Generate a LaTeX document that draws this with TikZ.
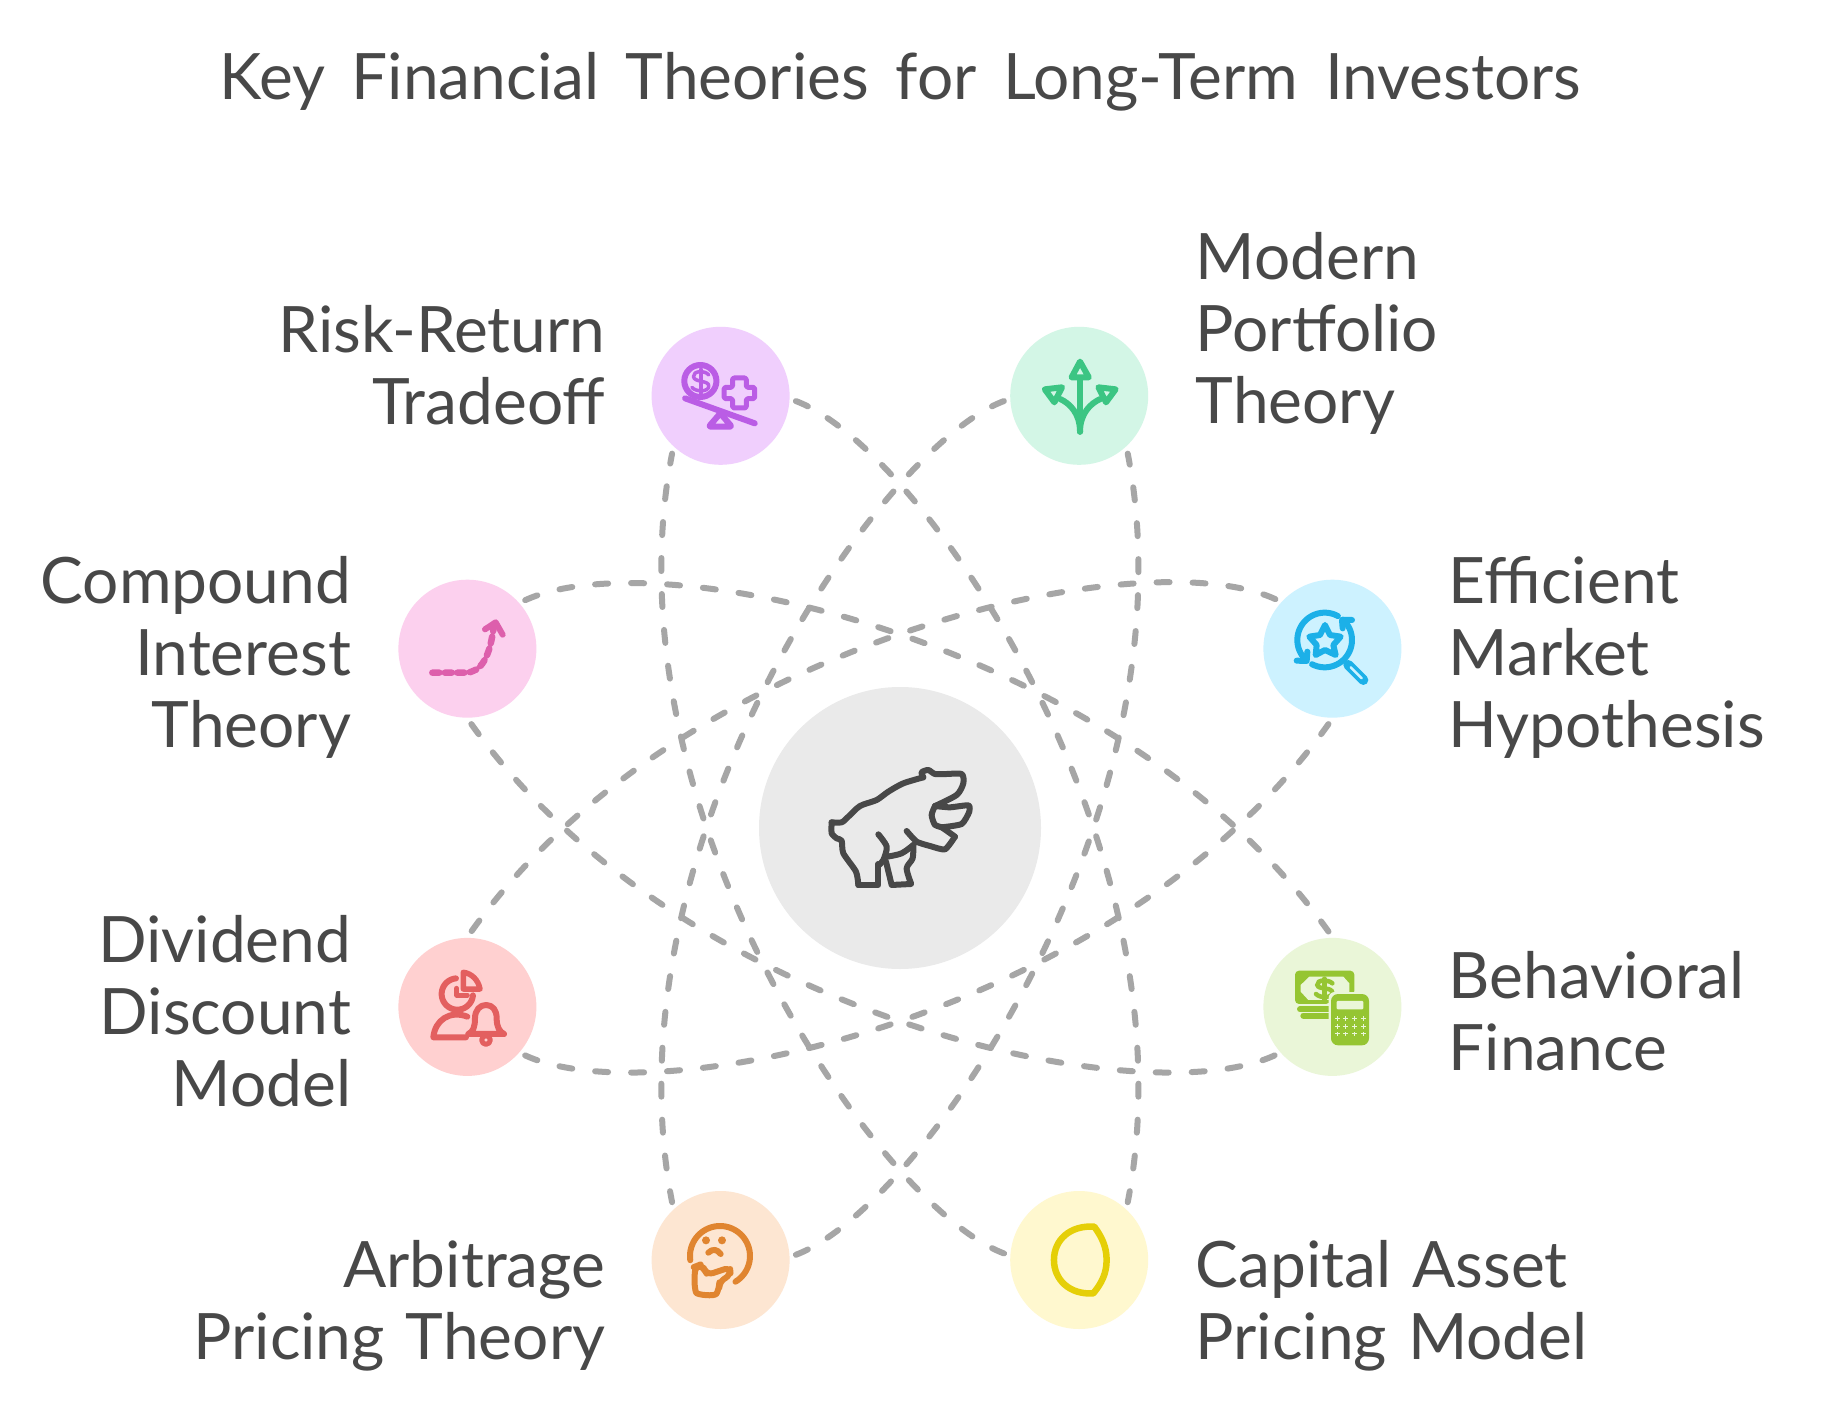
\documentclass[tikz,border=0pt]{standalone}
\usepackage{fontspec}
\setmainfont{Lato}
\newcommand{\labelfont}{\fontsize{64}{72}\selectfont\spaceskip 21pt\relax}
\newcommand{\titlefont}{\fontsize{64}{72}\selectfont\spaceskip 26.5pt\relax}
\definecolor{ink}{HTML}{484848}
\definecolor{dashc}{HTML}{A6A6A6}
\definecolor{cpurple}{HTML}{F0CFFD}\definecolor{ipurple}{HTML}{BA5DE5}
\definecolor{cgreen}{HTML}{D3F6E6}\definecolor{igreen}{HTML}{3CC583}
\definecolor{cpink}{HTML}{FCD0EE}\definecolor{ipink}{HTML}{DD5FAC}
\definecolor{cblue}{HTML}{CDF2FF}\definecolor{iblue}{HTML}{1CB0E8}
\definecolor{cred}{HTML}{FFD0D0}\definecolor{ired}{HTML}{E35F5F}
\definecolor{clime}{HTML}{EAF6D8}\definecolor{ilime}{HTML}{95C532}
\definecolor{corange}{HTML}{FDE6D2}\definecolor{iorange}{HTML}{E08530}
\definecolor{cyellow}{HTML}{FFF8CF}\definecolor{iyellow}{HTML}{E5CF08}
\definecolor{ccentre}{HTML}{EAEAEA}
\tikzset{
  spot/.style={circle,minimum size=138pt,inner sep=0pt,outer sep=6.5pt,fill=#1},
  dashlink/.style={draw=dashc,line width=6pt,line cap=round,dash pattern=on 13pt off 23pt},
  label/.style={text=ink,font=\labelfont},
  leftlabel/.style={label,anchor=east,align=right,inner sep=0pt},
  rightlabel/.style={label,anchor=west,align=left,inner sep=0pt},
  iconline/.style={line width=6pt,line cap=round,line join=round},
}
\begin{document}
\begin{tikzpicture}[x=1pt,y=-1pt]
\path[use as bounding box,fill=white] (0,0) rectangle (1836,1404);
\node[text=ink,font=\titlefont,anchor=center,inner sep=0pt] (title) at (900,82) {Key Financial Theories for Long-Term Investors};
\node[spot=ccentre,minimum size=282pt] (centre) at (900,828) {};
\node[spot=cpurple] (purple) at (720.6,395.8) {};
\node[spot=cgreen] (green) at (1079.2,395.8) {};
\node[spot=cpink] (pink) at (467.4,648.7) {};
\node[spot=cblue] (blue) at (1332.4,648.7) {};
\node[spot=cred] (red) at (467.4,1006.9) {};
\node[spot=clime] (lime) at (1332.4,1006.9) {};
\node[spot=corange] (orange) at (720.6,1260) {};
\node[spot=cyellow] (yellow) at (1079.2,1260) {};
% connectors
\draw[dashlink] (purple.-4.4) .. controls +(128,48) and +(68,-350) .. (yellow.50);
\draw[dashlink] (yellow.175.6) .. controls +(-128,-48) and +(-68,350) .. (purple.230);
\draw[dashlink] (green.184.4) .. controls +(-128,48) and +(-68,-350) .. (orange.130);
\draw[dashlink] (orange.4.4) .. controls +(128,-48) and +(68,350) .. (green.-50);
\draw[dashlink] (pink.40.6) .. controls +(135,-62) and +(-205,-288) .. (lime.93);
\draw[dashlink] (lime.220.6) .. controls +(-135,62) and +(205,288) .. (pink.273);
\draw[dashlink] (blue.139.4) .. controls +(-135,-62) and +(205,-288) .. (red.87);
\draw[dashlink] (red.-40.6) .. controls +(135,62) and +(-205,288) .. (blue.-93);
% labels
\node[leftlabel] (lrisk) at (605.4,365) {Risk-Return\\Tradeoff};
\node[rightlabel] (lmodern) at (1195.5,333.5) {Modern\\Portfolio\\Theory};
\node[leftlabel] (lcomp) at (351.3,657) {Compound\\Interest\\Theory};
\node[rightlabel] (leff) at (1448.5,657) {Efficient\\Market\\Hypothesis};
\node[leftlabel] (ldiv) at (351.3,1011.5) {Dividend\\Discount\\Model};
\node[rightlabel] (lbeh) at (1448.5,1011.5) {Behavioral\\Finance};
\node[leftlabel] (larb) at (605.4,1305.5) {Arbitrage\\Pricing Theory};
\node[rightlabel] (lcap) at (1195.5,1305.5) {Capital Asset\\Pricing Model};
% purple icon
\begin{scope}[shift={(620,300)},xscale=0.3827,yscale=0.3333,iconline,draw=ipurple]
\draw (210,243) ellipse [x radius=42,y radius=48];
\draw[line width=3.5pt] (232,225) .. controls (222,210) and (190,212) .. (192,230) .. controls (194,248) and (232,240) .. (232,258) .. controls (232,278) and (195,275) .. (188,262);
\draw[line width=3.5pt] (211,208) -- (211,280);
\draw[line width=5pt,rounded corners=1.5pt] (294,234) -- (330,234) -- (330,262) -- (352,262) -- (352,296) -- (330,296) -- (330,324) -- (294,324) -- (294,296) -- (272,296) -- (272,262) -- (294,262) -- cycle;
\draw (170,295) -- (352,370);
\draw[rounded corners=2pt] (262,340) -- (232,380) -- (292,380) -- cycle;
\end{scope}
% green icon
\begin{scope}[shift={(620,300)},xscale=0.3827,yscale=0.3333,iconline,draw=igreen]
\draw (1202,395) -- (1202,235);
\draw (1202,185) -- (1180,232) -- (1225,232) -- cycle;
\draw (1202,395) .. controls (1202,340) and (1175,310) .. (1150,297);
\draw (1202,395) .. controls (1202,340) and (1230,310) .. (1255,297);
\draw (1110,268) -- (1155,262) -- (1135,307) -- cycle;
\draw (1295,268) -- (1250,262) -- (1270,307) -- cycle;
\end{scope}
% pink icon
\begin{scope}[shift={(380,560)},scale=0.3333,iconline,draw=ipink]
\draw[line width=6.5pt,dash pattern=on 7pt off 5.5pt] (157,338) -- (255,338) .. controls (305,338) and (330,290) .. (342,195);
\draw (315,208) -- (347,187) -- (368,224);
\end{scope}
% blue icon
\begin{scope}[shift={(1250,560)},scale=0.3333,iconline,draw=iblue]
\draw plot[domain=-61:-220,samples=40] ({224+82*cos(\x)},{240+82*sin(\x)});
\draw plot[domain=117.5:-48,samples=40] ({224+82*cos(\x)},{240+82*sin(\x)});
\draw (172,275) -- (170,303) -- (140,302);
\draw (278,205) -- (276,180) -- (306,180);
\draw (225,195) -- (240,225) -- (272,230) -- (250,255) -- (257,285) -- (225,270) -- (197,285) -- (200,255) -- (178,230) -- (210,225) -- cycle;
\draw[line width=10pt] (295,315) -- (340,360);
\draw[draw=cblue,line width=2.5pt] (302,322) -- (335,355);
\end{scope}
% red icon
\begin{scope}[shift={(380,920)},scale=0.3333,iconline,draw=ired]
\draw plot[domain=5:265,samples=50] ({232+47*cos(\x)},{222+47*sin(\x)});
\draw[line width=5.5pt] (250,207) -- (250,157) .. controls (275,160) and (295,180) .. (300,207) -- cycle;
\draw[line width=5pt] (230,205) -- (230,225) -- (262,225);
\draw (262,290) .. controls (210,270) and (165,300) .. (160,352) -- (258,352);
\draw (265,342) .. controls (280,335) and (285,320) .. (285,295) .. controls (285,270) and (300,255) .. (318,255) .. controls (338,255) and (350,270) .. (350,295) .. controls (350,320) and (358,335) .. (372,342) -- cycle;
\draw[line width=5pt] (318,360) circle (13);
\end{scope}
% lime icon
\begin{scope}[shift={(1250,920)},scale=0.3333]
\fill[ilime,rounded corners=4pt] (135,152) -- (313,152) -- (313,225) -- (240,225) -- (240,252) -- (135,252) -- cycle;
\fill[clime] (178,170) -- (280,170) -- (298,190) -- (298,222) -- (245,222) -- (245,240) -- (175,240) -- (152,215) -- (152,195) -- cycle;
\draw[ilime,line width=4.5pt,line cap=round] (247,190) .. controls (235,178) and (200,178) .. (202,195) .. controls (204,210) and (246,200) .. (247,218) .. controls (248,235) and (210,235) .. (198,222);
\draw[ilime,line width=4.5pt,line cap=round] (223,176) -- (223,240);
\draw[ilime,line width=6pt,line cap=round] (150,268) -- (238,268);
\draw[ilime,line width=6pt,line cap=round] (160,287) -- (238,287);
\fill[clime,rounded corners=6pt] (236,216) rectangle (364,382);
\fill[ilime,rounded corners=7pt] (243,222) rectangle (357,376);
\fill[clime,rounded corners=1pt] (260,243) rectangle (340,268);
\foreach \kx in {262,287,314,340}{\foreach \ky in {296,320,342}{
  \fill[clime] (\kx-7,\ky-1.5) rectangle (\kx+7,\ky+1.5);
  \fill[clime] (\kx-1.5,\ky-7) rectangle (\kx+1.5,\ky+7);
}}
\end{scope}
% orange icon
\begin{scope}[shift={(630,1180)},scale=0.3333,iconline,draw=iorange]
\draw plot[domain=172:419,samples=50] ({270+90*cos(\x)},{228+90*sin(\x)});
\fill[iorange] (228,181) circle (12) (276,181) circle (12);
\draw (235,218) .. controls (248,205) and (262,208) .. (272,222);
\draw[rounded corners=6pt] (208,255) -- (195,260) -- (193,320) .. controls (200,345) and (255,350) .. (268,325) -- (268,305) -- (302,285) -- (300,262) -- (232,285) -- (222,265) -- cycle;
\end{scope}
% yellow icon
\begin{scope}[shift={(630,1180)},scale=0.3333,iconline,draw=iyellow]
\draw[line width=6.5pt] (1393,140) .. controls (1320,135) and (1272,180) .. (1272,240) .. controls (1272,300) and (1320,345) .. (1390,340) .. controls (1415,310) and (1430,280) .. (1430,240) .. controls (1430,200) and (1415,170) .. (1393,140) -- cycle;
\end{scope}
% bear icon
\begin{scope}[shift={(780,720)},scale=0.3333,iconline,draw=ink]
\draw plot[smooth,tension=.45] coordinates {(430,172) (425,157) (445,150) (465,162) (500,162) (545,162) (550,190) (530,225) (465,258)};
\draw plot[smooth,tension=.35] coordinates {(465,258) (510,262) (565,256) (568,275) (545,312) (485,322)};
\draw plot[smooth,tension=.45] coordinates {(465,258) (455,285) (465,315) (485,322) (525,350)};
\draw plot[smooth,tension=.35] coordinates {(525,350) (495,388) (450,378) (410,365) (380,333)};
\draw plot[smooth,tension=.45] coordinates {(430,172) (370,190) (325,215) (290,240) (240,258) (205,290) (185,307) (155,307)};
\draw plot[smooth,tension=.4] coordinates {(155,307) (155,340) (170,355) (185,362) (190,400) (228,455) (235,495)};
\draw (235,495) -- (295,495) -- (295,432);
\draw plot[smooth,tension=.5] coordinates {(295,343) (320,380) (310,420) (297,435)};
\draw plot[smooth,tension=.5] coordinates {(322,410) (365,400) (400,375)};
\draw plot[smooth,tension=.5] coordinates {(400,375) (398,415) (380,445) (393,490)};
\draw (393,492) -- (335,495) -- (318,425);
\end{scope}
\end{tikzpicture}
\end{document}
